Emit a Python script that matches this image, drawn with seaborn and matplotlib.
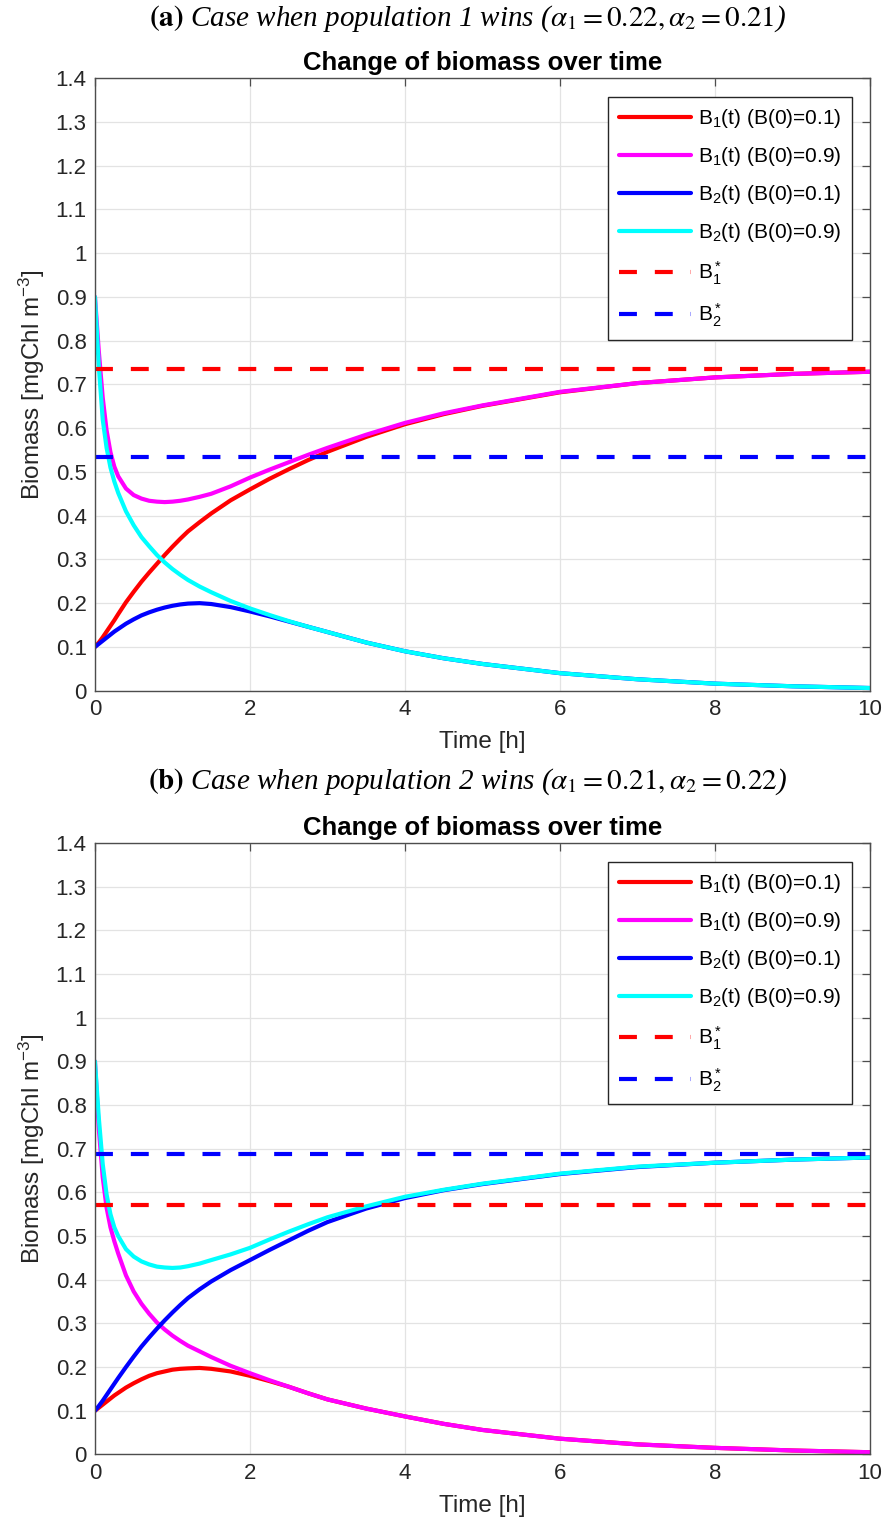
import numpy as np
import pandas as pd
import matplotlib
matplotlib.use("Agg")
import matplotlib.pyplot as plt
import seaborn as sns

# ---------------------------------------------------------
# data (time in hours, biomass in mgChl m^-3)
# ---------------------------------------------------------
time_h = [0, 0.05, 0.1, 0.15, 0.2, 0.25, 0.3, 0.4, 0.5, 0.6, 0.7, 0.8, 0.9, 1.0,
          1.1, 1.2, 1.35, 1.5, 1.75, 2.0, 2.25, 2.5, 2.75, 3.0, 3.5, 4, 4.5, 5,
          6, 7, 8, 9, 10]

# panel (a): population 1 wins
a_b1_low = [0.1, 0.11, 0.122, 0.135, 0.148, 0.161, 0.175, 0.202, 0.226, 0.249, 0.27, 0.29, 0.31, 0.329,
            0.347, 0.364, 0.385, 0.405, 0.435, 0.46, 0.484, 0.506, 0.527, 0.546, 0.58, 0.609, 0.632, 0.651,
            0.682, 0.703, 0.716, 0.724, 0.729]
a_b1_high = [0.9, 0.775, 0.67, 0.595, 0.545, 0.512, 0.49, 0.462, 0.447, 0.439, 0.434, 0.432, 0.431, 0.432,
             0.434, 0.437, 0.443, 0.45, 0.467, 0.487, 0.505, 0.522, 0.539, 0.555, 0.585, 0.612, 0.634, 0.652,
             0.683, 0.703, 0.716, 0.724, 0.729]
a_b2_low = [0.1, 0.107, 0.114, 0.121, 0.128, 0.135, 0.141, 0.153, 0.163, 0.172, 0.179, 0.185, 0.19, 0.194,
            0.197, 0.199, 0.2, 0.198, 0.191, 0.181, 0.17, 0.158, 0.146, 0.134, 0.11, 0.09, 0.074, 0.061,
            0.04, 0.026, 0.016, 0.01, 0.006]
a_b2_high = [0.9, 0.74, 0.62, 0.555, 0.51, 0.478, 0.452, 0.41, 0.378, 0.351, 0.33, 0.31, 0.293, 0.278,
             0.265, 0.253, 0.238, 0.225, 0.205, 0.188, 0.173, 0.159, 0.146, 0.134, 0.11, 0.09, 0.074, 0.061,
             0.04, 0.026, 0.016, 0.01, 0.006]
a_b1_star = 0.736
a_b2_star = 0.534

# panel (b): population 2 wins
b_b1_low = [0.1, 0.107, 0.114, 0.121, 0.128, 0.135, 0.141, 0.153, 0.163, 0.172, 0.18, 0.186, 0.19, 0.194,
            0.196, 0.197, 0.198, 0.196, 0.19, 0.18, 0.168, 0.155, 0.14, 0.126, 0.105, 0.087, 0.07, 0.056,
            0.036, 0.023, 0.015, 0.009, 0.005]
b_b1_high = [0.9, 0.745, 0.635, 0.565, 0.52, 0.488, 0.46, 0.41, 0.373, 0.345, 0.322, 0.302, 0.286, 0.272,
             0.26, 0.249, 0.236, 0.223, 0.203, 0.186, 0.17, 0.155, 0.14, 0.126, 0.105, 0.087, 0.07, 0.056,
             0.036, 0.023, 0.015, 0.009, 0.005]
b_b2_low = [0.1, 0.111, 0.123, 0.136, 0.149, 0.162, 0.175, 0.2, 0.224, 0.247, 0.268, 0.288, 0.307, 0.325,
            0.342, 0.358, 0.378, 0.396, 0.422, 0.445, 0.468, 0.49, 0.512, 0.532, 0.563, 0.587, 0.605, 0.619,
            0.642, 0.658, 0.668, 0.675, 0.68]
b_b2_high = [0.9, 0.77, 0.665, 0.595, 0.55, 0.52, 0.5, 0.47, 0.453, 0.442, 0.435, 0.43, 0.428, 0.427,
             0.428, 0.431, 0.437, 0.445, 0.458, 0.473, 0.492, 0.51, 0.527, 0.543, 0.568, 0.59, 0.606, 0.62,
             0.643, 0.659, 0.668, 0.675, 0.68]
b_b1_star = 0.572
b_b2_star = 0.687

series_labels = [r"B$_1$(t) (B(0)=0.1)", r"B$_1$(t) (B(0)=0.9)",
                 r"B$_2$(t) (B(0)=0.1)", r"B$_2$(t) (B(0)=0.9)"]
star_labels = [r"B$_1^*$", r"B$_2^*$"]
series_colors = ["#ff0000", "#ff00ff", "#0000ff", "#00ffff"]
star_colors = ["#ff0000", "#0000ff"]

captions = [
    r"$\mathbf{(a)}$ Case when population 1 wins ($\alpha_1 = 0.22, \alpha_2 = 0.21$)",
    r"$\mathbf{(b)}$ Case when population 2 wins ($\alpha_1 = 0.21, \alpha_2 = 0.22$)",
]

# ---------------------------------------------------------
# style
# ---------------------------------------------------------
sns.set_theme(style="whitegrid")
plt.rcParams["font.family"] = ["Liberation Sans", "DejaVu Sans"]
plt.rcParams["mathtext.fontset"] = "custom"
plt.rcParams["mathtext.rm"] = "Liberation Sans"
plt.rcParams["mathtext.it"] = "Liberation Sans:italic"
plt.rcParams["mathtext.bf"] = "Liberation Sans:bold"

dark = "#262626"
axis_grey = "#4d4d4d"
line_w = 3.0


def long_form(curves):
    rows = []
    for label, values in zip(series_labels, curves):
        rows.append(pd.DataFrame({"time": time_h, "biomass": values, "series": label}))
    return pd.concat(rows, ignore_index=True)


def draw_panel(ax, curves, stars):
    df = long_form(curves)
    for label, color in zip(series_labels, series_colors):
        sns.lineplot(data=df[df["series"] == label], x="time", y="biomass",
                     color=color, linewidth=line_w, label=label, errorbar=None, ax=ax)

    # equilibrium lines drawn across the simulated time span
    t_span = [time_h[0], time_h[-1]]
    for value, label, color in zip(stars, star_labels, star_colors):
        sns.lineplot(x=t_span, y=[value, value], color=color, linewidth=line_w,
                     linestyle=(0, (4.3, 4.3)), label=label, errorbar=None, ax=ax)

    ax.set_xlim(0, 10)
    ax.set_ylim(0, 1.4)
    xt = np.arange(0, 10.1, 2)
    ax.set_xticks(xt)
    ax.set_xticklabels([f"{v:g}" for v in xt])
    yt = np.round(np.arange(0, 1.41, 0.1), 1)
    ax.set_yticks(yt)
    ax.set_yticklabels([f"{v:g}" for v in yt])

    ax.set_title("Change of biomass over time", fontsize=18.5, fontweight="bold",
                 color="black", pad=6)
    ax.set_xlabel("Time [h]", fontsize=17.5, color=dark, labelpad=8)
    ax.set_ylabel(r"Biomass [mgChl m$^{-3}$]", fontsize=17.5, color=dark, labelpad=6)

    ax.set_facecolor("white")
    ax.grid(True, color="#e3e3e3", linewidth=0.9)
    for side in ["left", "right", "top", "bottom"]:
        ax.spines[side].set_visible(True)
        ax.spines[side].set_color(axis_grey)
        ax.spines[side].set_linewidth(1.0)
    ax.tick_params(direction="in", top=True, right=True, length=6, width=0.9,
                   color=axis_grey, labelsize=16, labelcolor=dark, pad=6)

    leg = ax.legend(loc="upper right", bbox_to_anchor=(0.9768, 0.9693), borderaxespad=0,
                    fontsize=15, handlelength=3.45, handletextpad=0.35, borderpad=0.5,
                    labelspacing=0.72, fancybox=False, framealpha=1, edgecolor=dark)
    leg.get_frame().set_linewidth(1.0)
    for txt in leg.get_texts():
        txt.set_color("black")


fig = plt.figure(figsize=(8.85, 15.3), dpi=100)
fig.patch.set_facecolor("white")

ax_a = fig.add_axes([0.1073, 0.5486, 0.8757, 0.4003])
ax_b = fig.add_axes([0.1073, 0.0494, 0.8757, 0.3996])

draw_panel(ax_a, [a_b1_low, a_b1_high, a_b2_low, a_b2_high], [a_b1_star, a_b2_star])
draw_panel(ax_b, [b_b1_low, b_b1_high, b_b2_low, b_b2_high], [b_b1_star, b_b2_star])

for y_pos, caption in zip([0.988, 0.489], captions):
    fig.text(0.528, y_pos, caption, ha="center", va="center", fontsize=21,
             family="Liberation Serif", style="italic", math_fontfamily="stix", color="black")

fig.savefig("out.png", dpi=100, facecolor="white")
